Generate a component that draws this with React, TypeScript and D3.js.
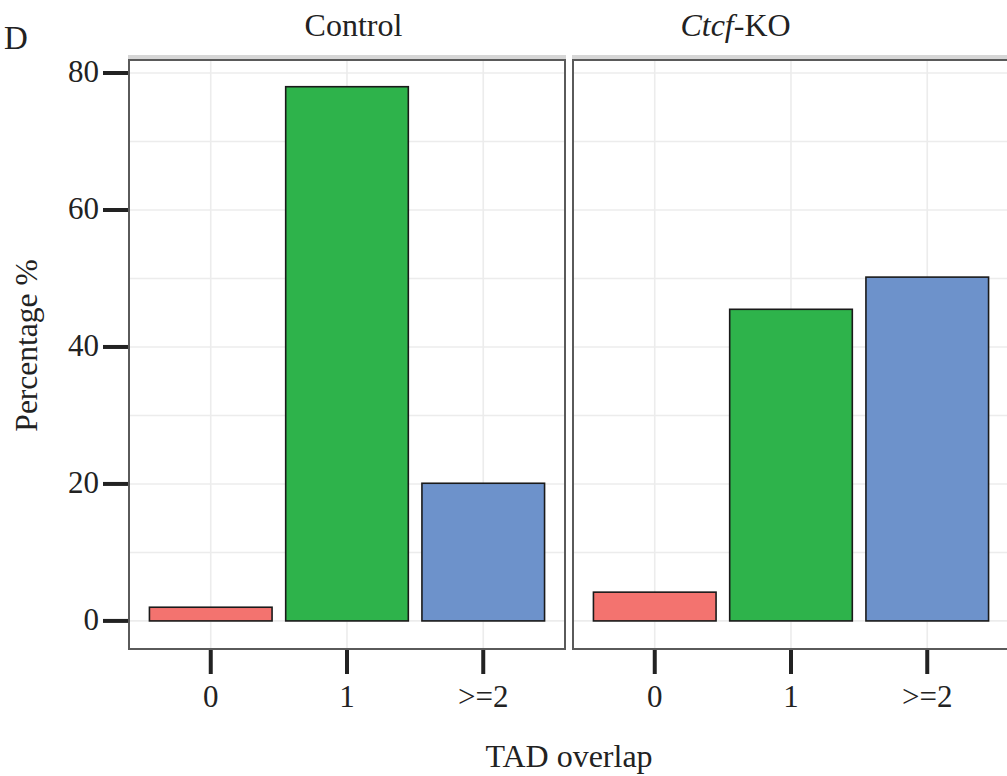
import React from 'react'
import * as d3 from 'd3'

const categories = ['0', '1', '>=2']
const panels = ['Control', 'Ctcf-KO']
const controlValues = [2.0, 78.0, 20.1]
const koValues = [4.2, 45.5, 50.2]
const yTicks = [0, 20, 40, 60, 80]
const yMinor = [10, 30, 50, 70]
const colors = ['#F3736F', '#2EB34B', '#6D92CB']

const W = 1007
const H = 776
const panelTop = 60
const panelBottom = 649
const panelW = 436
const panelXs = [129, 573]
// strip titles sit a little off the panel centres in the original
const stripX = [353.5, 735.5]
const font = '"Liberation Serif", "DejaVu Serif", serif'

const App = () => {
  const y = d3.scaleLinear().domain([-4.1, 81.9]).range([panelBottom, panelTop])
  const series = [controlValues, koValues]

  return (
    <svg width={W} height={H} style={{ position: 'absolute', left: 0, top: 0, background: '#fff' }}>
      <text x={4} y={49} fontFamily={font} fontSize={33} fill="#222">D</text>

      {panels.map((p, pi) => {
        const x0 = panelXs[pi]
        const x = d3.scalePoint().domain(categories).range([x0, x0 + panelW]).padding(0.6)
        const bw = x.step() * 0.9
        const vals = series[pi]
        return (
          <g key={p}>
            <clipPath id={`clip${pi}`}>
              <rect x={x0} y={panelTop} width={panelW} height={panelBottom - panelTop} />
            </clipPath>
            <g clipPath={`url(#clip${pi})`}>
              {yMinor.concat(yTicks).map((t) => (
                <line key={t} x1={x0} x2={x0 + panelW} y1={y(t)} y2={y(t)} stroke="#ececec" strokeWidth={1.6} />
              ))}
              {categories.map((c) => (
                <line key={c} x1={x(c)} x2={x(c)} y1={panelTop} y2={panelBottom} stroke="#ececec" strokeWidth={1.6} />
              ))}
              {categories.map((c, i) => (
                <rect
                  key={c}
                  x={(x(c) as number) - bw / 2}
                  y={y(vals[i])}
                  width={bw}
                  height={y(0) - y(vals[i])}
                  fill={colors[i]}
                  stroke="#1a1a1a"
                  strokeWidth={1.6}
                />
              ))}
            </g>
            {/* strip band + panel border */}
            <rect x={x0 - 1} y={panelTop - 5} width={panelW + 2} height={4} fill="#d6d6d6" />
            <rect x={x0} y={panelTop} width={panelW} height={panelBottom - panelTop} fill="none" stroke="#5a5a5a" strokeWidth={2} />
            <text x={stripX[pi]} y={36} textAnchor="middle" fontFamily={font} fontSize={32} fill="#222">
              {p === 'Ctcf-KO' ? (
                <>
                  <tspan fontStyle="italic">Ctcf</tspan>-KO
                </>
              ) : (
                p
              )}
            </text>
            {categories.map((c) => (
              <g key={c}>
                <line x1={x(c)} x2={x(c)} y1={panelBottom + 1} y2={panelBottom + 25} stroke="#222" strokeWidth={4} />
                <text x={x(c)} y={707} textAnchor="middle" fontFamily={font} fontSize={31} fill="#222">
                  {c}
                </text>
              </g>
            ))}
          </g>
        )
      })}

      {yTicks.map((t) => (
        <g key={t}>
          <line x1={103} x2={128} y1={y(t)} y2={y(t)} stroke="#222" strokeWidth={4} />
          <text x={99} y={y(t) - 2} dy="0.35em" textAnchor="end" fontFamily={font} fontSize={31} fill="#222">
            {t}
          </text>
        </g>
      ))}

      <text
        transform="translate(37, 345.5) rotate(-90)"
        textAnchor="middle"
        fontFamily={font}
        fontSize={31.5}
        fill="#222"
      >
        Percentage %
      </text>
      <text
        x={(panelXs[0] + panelXs[1] + panelW) / 2}
        y={767}
        textAnchor="middle"
        fontFamily={font}
        fontSize={32}
        fill="#222"
      >
        TAD overlap
      </text>
    </svg>
  )
}

export default App
